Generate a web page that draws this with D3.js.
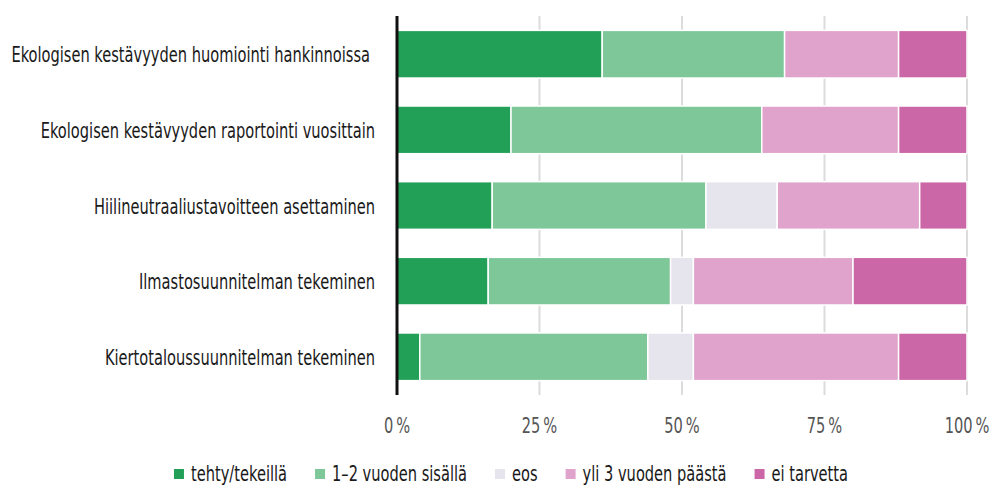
<!DOCTYPE html>
<html>
<head>
<meta charset="utf-8">
<script src="https://cdn.jsdelivr.net/npm/d3@7"></script>
<style>
  body { margin: 0; background: #fff; }
  svg text { font-family: "Liberation Sans Narrow", "DejaVu Sans Condensed", "DejaVu Sans", sans-serif; }
</style>
</head>
<body>
<script>
// data (percent of respondents)
var categories = [
  "Ekologisen kestävyyden huomiointi hankinnoissa",
  "Ekologisen kestävyyden raportointi vuosittain",
  "Hiilineutraaliustavoitteen asettaminen",
  "Ilmastosuunnitelman tekeminen",
  "Kiertotaloussuunnitelman tekeminen"
];
var seriesNames = ["tehty/tekeillä", "1–2 vuoden sisällä", "eos", "yli 3 vuoden päästä", "ei tarvetta"];
var tehty      = [36, 20, 16.7, 16, 4];
var vuoden12   = [32, 44, 37.5, 32, 40];
var eos        = [0, 0, 12.5, 4, 8];
var yli3       = [20, 24, 25, 28, 36];
var eiTarvetta = [12, 12, 8.3, 20, 12];
var tickValues = [0, 25, 50, 75, 100];
var colors = ["#23a058", "#7dc799", "#e6e4ec", "#e0a3cb", "#cb66a7"];

var W = 994, H = 488;
var FS = 22;
var svg = d3.select("body").append("svg")
  .attr("width", W)
  .attr("height", H);

// build rows for stacking
var rows = categories.map(function (c, i) {
  var r = { cat: c };
  r[seriesNames[0]] = tehty[i];
  r[seriesNames[1]] = vuoden12[i];
  r[seriesNames[2]] = eos[i];
  r[seriesNames[3]] = yli3[i];
  r[seriesNames[4]] = eiTarvetta[i];
  return r;
});
var stacked = d3.stack().keys(seriesNames)(rows);

var x = d3.scaleLinear().domain([0, 100]).range([397, 967]);
var y = d3.scaleBand().domain(categories).range([16, 395])
  .paddingInner(0.37).paddingOuter(0.19);
var color = d3.scaleOrdinal().domain(seriesNames).range(colors);

// the reference uses a condensed face; squeeze our font to match its width
var probe = svg.append("text").attr("font-size", FS).text(categories[0]);
var k = 359 / probe.node().getComputedTextLength();
probe.remove();

// gridlines
svg.append("g").selectAll("line")
  .data(tickValues.slice(1))
  .enter().append("line")
  .attr("x1", function (d) { return x(d); })
  .attr("x2", function (d) { return x(d); })
  .attr("y1", 16)
  .attr("y2", 395)
  .attr("stroke", "#dcdcdc")
  .attr("stroke-width", 2);

// bars
svg.append("g").selectAll("g")
  .data(stacked)
  .enter().append("g")
  .attr("fill", function (d) { return color(d.key); })
  .selectAll("rect")
  .data(function (d) { return d.filter(function (p) { return p[1] - p[0] > 0; }); })
  .enter().append("rect")
  .attr("x", function (d) { return x(d[0]); })
  .attr("y", function (d) { return y(d.data.cat); })
  .attr("width", function (d) { return x(d[1]) - x(d[0]); })
  .attr("height", y.bandwidth())
  .attr("stroke", "#fff")
  .attr("stroke-width", 1.5);

// zero axis line
svg.append("line")
  .attr("x1", x(0)).attr("x2", x(0))
  .attr("y1", 16).attr("y2", 395)
  .attr("stroke", "#111")
  .attr("stroke-width", 3);

// x tick labels
var xAxis = d3.axisBottom(x).tickValues(tickValues)
  .tickSize(0).tickPadding(0)
  .tickFormat(function (d) { return d + "\u2009%"; });
var gx = svg.append("g").call(xAxis);
gx.select(".domain").remove();
gx.selectAll(".tick").attr("transform", function (d) {
  return "translate(" + x(d) + ",433) scale(" + k + ",1)";
});
gx.selectAll("text")
  .attr("y", 0)
  .attr("dy", 0)
  .attr("font-size", FS)
  .attr("fill", "#555")
  .style("font-family", "'Liberation Sans Narrow', 'DejaVu Sans Condensed', 'DejaVu Sans', sans-serif");

// category labels (first one sits a little further left in the reference)
svg.append("g").selectAll("text")
  .data(categories)
  .enter().append("text")
  .attr("transform", function (d, i) {
    var xr = i === 0 ? 370 : 375;
    return "translate(" + xr + "," + (y(d) + y.bandwidth() / 2 + 8) + ") scale(" + k + ",1)";
  })
  .attr("text-anchor", "end")
  .attr("font-size", FS)
  .attr("fill", "#1a1a1a")
  .text(function (d) { return d; });

// legend
var legend = svg.append("g");
var items = legend.selectAll("g")
  .data(seriesNames)
  .enter().append("g");
items.append("rect")
  .attr("width", 10).attr("height", 10)
  .attr("y", 469)
  .attr("fill", function (d) { return color(d); });
items.append("text")
  .attr("transform", "translate(17,481) scale(" + k + ",1)")
  .attr("font-size", FS)
  .attr("fill", "#1a1a1a")
  .text(function (d) { return d; });
var widths = [];
items.each(function () {
  var w = 17 + k * d3.select(this).select("text").node().getComputedTextLength();
  widths.push(w);
});
var total = d3.sum(widths) + 28 * (widths.length - 1);
var pos = 511 - total / 2;
items.attr("transform", function (d, i) {
  var p = pos;
  pos += widths[i] + 28;
  return "translate(" + p + ",0)";
});
</script>
</body>
</html>
